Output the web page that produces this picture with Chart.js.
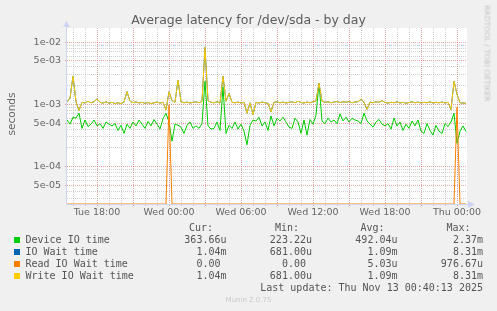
<!DOCTYPE html>
<html>
<head>
<meta charset="utf-8">
<script src="https://cdn.jsdelivr.net/npm/chart.js@4.4.1/dist/chart.umd.min.js"></script>
<style>
  body { margin: 0; background: #f0f0f0; }
  #wrap { position: relative; width: 497px; height: 311px; overflow: hidden; font-family: 'DejaVu Sans', sans-serif; color: #666; }
  canvas { position: absolute; left: 0; top: 0; }
  .t { position: absolute; white-space: pre; }
  .mono { font-family: 'DejaVu Sans Mono', monospace; font-size: 10px; line-height: 12px; color: #555; }
  .box { position: absolute; width: 6px; height: 6px; }
</style>
</head>
<body>
<div id="wrap">
  <canvas id="chart" width="497" height="311"></canvas>
  <div class="t" id="title" style="left:0;top:13px;width:497px;text-align:center;font-size:12.5px;line-height:14px;color:#5c5c5c;"></div>
  <div class="t" id="ylabel" style="left:-39px;top:108px;width:100px;text-align:center;font-size:10.5px;line-height:12px;transform:rotate(-90deg);"></div>
  <div class="t" id="rrd" style="left:427px;top:49px;width:120px;text-align:center;font-size:7.5px;line-height:9px;color:#c4c4c4;transform:rotate(90deg);">RRDTOOL / TOBI OETIKER</div>
  <div class="t" id="munin" style="left:0;top:296px;width:497px;text-align:center;font-size:7px;line-height:8px;color:#c8c8c8;">Munin 2.0.75</div>
  <div id="legend"></div>
</div>
<script>
// values, microseconds, one sample every 15 minutes
// starting Tue 15:30
const deviceIoUs = [
  560, 480, 620, 600, 720, 410, 560, 440, 480, 560,
  450, 490, 410, 520, 480, 450, 490, 380, 460, 340,
  480, 410, 520, 450, 560, 480, 410, 530, 450, 570,
  480, 400, 590, 720, 520, 255, 480, 460, 430, 340,
  460, 520, 410, 450, 410, 490, 2370, 450, 400, 410,
  520, 380, 1900, 340, 460, 410, 520, 400, 480, 370,
  223, 460, 560, 540, 620, 450, 520, 380, 650, 450,
  600, 540, 620, 520, 430, 410, 600, 520, 340, 560,
  320, 570, 480, 670, 2200, 540, 490, 600, 520, 560,
  490, 700, 540, 620, 520, 600, 560, 540, 490, 720,
  540, 480, 430, 520, 570, 480, 450, 490, 400, 600,
  450, 520, 380, 480, 410, 540, 450, 560, 370, 340,
  490, 380, 320, 460, 370, 340, 490, 440, 520, 720,
  235, 370, 450, 364
];
const writeWaitUs = [
  1100, 1250, 2860, 1100, 800, 1080, 1050, 1120, 1060, 1100,
  1230, 1080, 1050, 1100, 1040, 1080, 1030, 1060, 1020, 1090,
  1600, 1120, 1060, 1100, 1050, 1080, 1040, 1070, 1030, 1060,
  1090, 1050, 1080, 810, 1600, 1150, 1080, 2460, 1100, 1060,
  1090, 1050, 1080, 1100, 1060, 1120, 8310, 1150, 1080, 1060,
  1100, 1050, 2850, 1120, 1500, 1080, 1060, 1090, 1050, 1080,
  720, 1060, 681, 1080, 1050, 1090, 1060, 1040, 760, 1080,
  1100, 1060, 1090, 1050, 1080, 1100, 1060, 1120, 1070, 1050,
  1090, 1060, 1100, 1140, 2200, 1120, 1080, 1100, 1060, 1090,
  1110, 1070, 1100, 1080, 1110, 1060, 1090, 1100, 1200, 1080,
  830, 1090, 1060, 1100, 1080, 1150, 1070, 1050, 1080, 1060,
  1100, 1050, 1080, 1040, 1070, 1100, 1060, 1090, 1050, 1080,
  1060, 1100, 1050, 1080, 1060, 1090, 1050, 1080, 820, 2370,
  1450, 1060, 1050, 1040
];
const readWaitUs = [
  0, 0, 0, 0, 0, 0, 0, 0, 0, 0,
  0, 0, 0, 0, 0, 0, 0, 0, 0, 0,
  0, 0, 0, 0, 0, 0, 0, 0, 0, 0,
  0, 0, 0, 0, 977, 0, 0, 0, 0, 0,
  0, 0, 0, 0, 0, 0, 0, 0, 0, 0,
  0, 0, 0, 0, 0, 0, 0, 0, 0, 0,
  0, 0, 0, 0, 0, 0, 0, 0, 0, 0,
  0, 0, 0, 0, 0, 0, 0, 0, 0, 0,
  0, 0, 0, 0, 0, 0, 0, 0, 0, 0,
  0, 0, 0, 0, 0, 0, 0, 0, 0, 0,
  0, 0, 0, 0, 0, 0, 0, 0, 0, 0,
  0, 0, 0, 0, 0, 0, 0, 0, 0, 0,
  0, 0, 0, 0, 0, 0, 0, 0, 0, 0,
  900, 0, 0, 0
];

const seriesNames = ['Device IO time', 'IO Wait time', 'Read IO Wait time', 'Write IO Wait time'];
const seriesColors = ['#00cc00', '#0066b3', '#ff8000', '#ffcc00'];
const legendCur = ['363.66u', '1.04m', '0.00 ', '1.04m'];
const legendMin = ['223.22u', '681.00u', '0.00 ', '681.00u'];
const legendAvg = ['492.04u', '1.09m', '5.03u', '1.09m'];
const legendMax = ['2.37m', '8.31m', '976.67u', '8.31m'];

const xTickHours = [18, 24, 30, 36, 42, 48];
const xTickLabels = ['Tue 18:00', 'Wed 00:00', 'Wed 06:00', 'Wed 12:00', 'Wed 18:00', 'Thu 00:00'];
const yTickValues = [1e-2, 5e-3, 1e-3, 5e-4, 1e-4, 5e-5];
const yTickLabels = ['1e-02', '5e-03', '1e-03', '5e-04', '1e-04', '5e-05'];

const startHour = 15.5;   // Tue 15:30
const stepHours = 0.25;
const xMin = 15.5, xMax = 48.8333;
const yMin = 2.48e-5, yMax = 1.7e-2;

const gridMinor = 'rgba(150,150,150,0.45)';
const gridMajor = 'rgba(215,90,90,0.55)';
const axisColor = '#cdd4f4';

document.getElementById('title').textContent = 'Average latency for /dev/sda - by day';
document.getElementById('ylabel').textContent = 'seconds';

const times = deviceIoUs.map((_, i) => startHour + i * stepHours);
// zero has no place on a log axis: rrdtool lays it on the floor, so do we
const toPoints = arr => arr.map((v, i) => ({ x: times[i], y: v > 0 ? v / 1e6 : yMin }));

const yGrid = [];
for (let e = -5; e <= -2; e++) {
  for (let s = 1; s <= 9; s++) {
    const v = s * Math.pow(10, e);
    if (v >= yMin && v <= yMax) yGrid.push(v);
  }
}
const xGrid = [];
for (let h = 16; h <= 48; h++) xGrid.push(h);

const yMajorIndex = v => yTickValues.findIndex(t => Math.abs(v / t - 1) < 1e-6);

const muninFrame = {
  id: 'muninFrame',
  beforeDraw(chart) {
    const { ctx, chartArea: a } = chart;
    ctx.save();
    ctx.fillStyle = '#ffffff';
    ctx.fillRect(a.left, a.top, a.right - a.left, a.bottom - a.top);
    ctx.restore();
  },
  beforeDatasetsDraw(chart) {
    const { ctx, chartArea: a } = chart;
    const x0 = Math.round(a.left) - 0.5;
    const y0 = Math.round(a.bottom) + 0.5;
    ctx.save();
    ctx.strokeStyle = axisColor;
    ctx.lineWidth = 1;
    ctx.beginPath();
    ctx.moveTo(x0, y0);
    ctx.lineTo(x0, a.top - 2);
    ctx.moveTo(x0, y0);
    ctx.lineTo(a.right + 2, y0);
    ctx.stroke();
    ctx.fillStyle = axisColor;
    ctx.beginPath();
    ctx.moveTo(x0 - 3.5, a.top - 1);
    ctx.lineTo(x0 + 3.5, a.top - 1);
    ctx.lineTo(x0, a.top - 7);
    ctx.closePath();
    ctx.fill();
    ctx.beginPath();
    ctx.moveTo(a.right + 1, y0 - 3.5);
    ctx.lineTo(a.right + 1, y0 + 3.5);
    ctx.lineTo(a.right + 8, y0);
    ctx.closePath();
    ctx.fill();
    ctx.restore();
  }
};

const lineStyle = { borderWidth: 1, pointRadius: 0, tension: 0, fill: false };

new Chart(document.getElementById('chart'), {
  type: 'line',
  data: {
    datasets: [
      { label: seriesNames[3], data: toPoints(writeWaitUs), borderColor: seriesColors[3], order: 0, ...lineStyle },
      { label: seriesNames[2], data: toPoints(readWaitUs), borderColor: seriesColors[2], order: 1, ...lineStyle },
      // IO wait = read + write, it sits under the write line everywhere on the picture
      { label: seriesNames[1], data: toPoints(writeWaitUs), borderColor: seriesColors[1], order: 2, ...lineStyle },
      { label: seriesNames[0], data: toPoints(deviceIoUs), borderColor: seriesColors[0], order: 3, ...lineStyle }
    ]
  },
  options: {
    responsive: false,
    animation: false,
    devicePixelRatio: 1,
    layout: { padding: { left: 0, top: 28, right: 30, bottom: 0 } },
    plugins: { legend: { display: false }, tooltip: { enabled: false }, title: { display: false } },
    scales: {
      x: {
        type: 'linear',
        min: xMin,
        max: xMax,
        bounds: 'data',
        afterBuildTicks: s => { s.ticks = xGrid.map(v => ({ value: v })); },
        afterFit: s => { s.height = 107; },
        grid: {
          color: c => (c.tick && c.tick.value % 3 === 0) ? gridMajor : gridMinor,
          tickColor: c => (c.tick && c.tick.value % 3 === 0) ? gridMajor : gridMinor,
          tickLength: 2,
          lineWidth: 1
        },
        border: { display: false, dash: [1, 1] },
        ticks: {
          autoSkip: false,
          maxRotation: 0,
          minRotation: 0,
          padding: 1,
          color: '#666',
          font: { family: 'DejaVu Sans', size: 9.5 },
          callback: v => {
            const k = xTickHours.indexOf(v);
            return k >= 0 ? xTickLabels[k] : '';
          }
        }
      },
      y: {
        type: 'logarithmic',
        min: yMin,
        max: yMax,
        bounds: 'data',
        afterBuildTicks: s => { s.ticks = yGrid.map(v => ({ value: v })); },
        afterFit: s => { s.width = 67; },
        grid: {
          color: c => (c.tick && yMajorIndex(c.tick.value) >= 0) ? gridMajor : gridMinor,
          tickColor: c => (c.tick && yMajorIndex(c.tick.value) >= 0) ? gridMajor : 'rgba(0,0,0,0)',
          tickLength: 2,
          lineWidth: 1
        },
        border: { display: false, dash: [1, 1] },
        ticks: {
          autoSkip: false,
          padding: 4,
          color: '#666',
          font: { family: 'DejaVu Sans', size: 9.5 },
          callback: v => {
            const k = yMajorIndex(v);
            return k >= 0 ? yTickLabels[k] : '';
          }
        }
      }
    }
  },
  plugins: [muninFrame]
});

// legend table under the graph, laid out the way rrdtool prints it
const legend = document.getElementById('legend');
function addText(text, left, right, top) {
  const el = document.createElement('div');
  el.className = 't mono';
  el.textContent = text;
  el.style.top = top + 'px';
  if (left !== null) el.style.left = left + 'px';
  else { el.style.right = (497 - right) + 'px'; el.style.textAlign = 'right'; }
  legend.appendChild(el);
}
const colRight = [226.5, 312, 397.5, 483];
const headRight = [213, 299, 384.5, 470.5];
const headers = ['Cur:', 'Min:', 'Avg:', 'Max:'];
const rowTop0 = 234;
headers.forEach((h, k) => addText(h, null, headRight[k], rowTop0 - 12));
seriesNames.forEach((name, r) => {
  const top = rowTop0 + r * 12;
  const box = document.createElement('div');
  box.className = 'box';
  box.style.left = '14px';
  box.style.top = (top + 3) + 'px';
  box.style.background = seriesColors[r];
  legend.appendChild(box);
  addText(name, 25.5, null, top);
  [legendCur, legendMin, legendAvg, legendMax].forEach((col, k) => addText(col[r], null, colRight[k], top));
});
addText('Last update: Thu Nov 13 00:40:13 2025', null, 483, rowTop0 + 48);
</script>
</body>
</html>
